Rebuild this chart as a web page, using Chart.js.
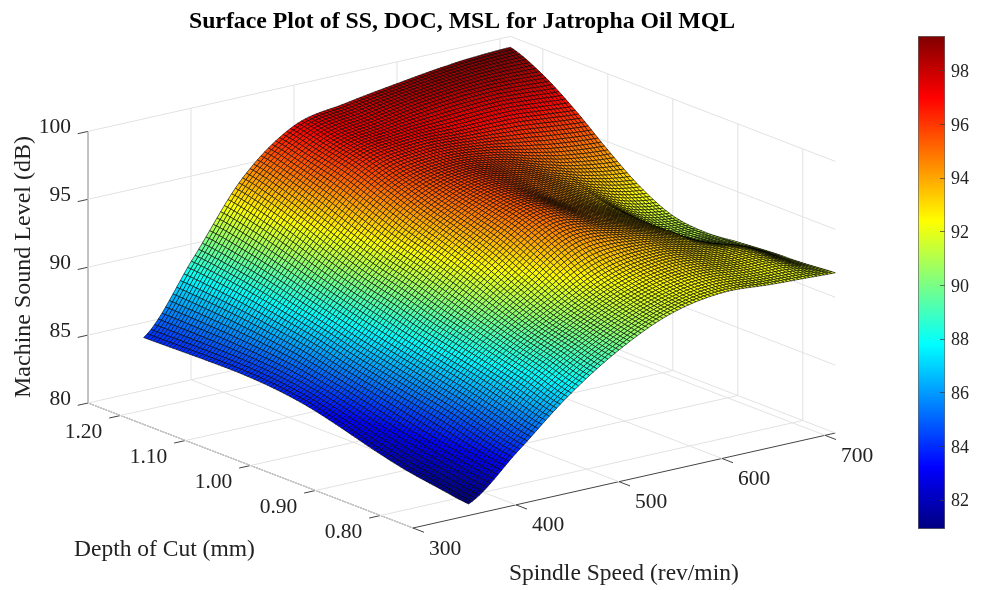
<!DOCTYPE html>
<html>
<head>
<meta charset="utf-8">
<title>Surface Plot of SS, DOC, MSL for Jatropha Oil MQL</title>
<script src="https://cdn.jsdelivr.net/npm/chart.js@4"></script>
<style>
    body { margin: 0; background: #fff; }
    #wrap { position: relative; width: 984px; height: 590px; overflow: hidden; filter: blur(0.6px); }
    #surface-chart { position: absolute; left: 0; top: 0; }
    #colorbar-chart { position: absolute; left: 880px; top: 0; }
</style>
</head>
<body>
<div id="wrap">
    <canvas id="surface-chart" width="924" height="590"></canvas>
    <canvas id="colorbar-chart" width="104" height="590"></canvas>
</div>
<script>
// values
const spindleSpeed = [354, 400, 450, 500, 550, 600, 650, 680, 710];
const depthOfCut = [0.75, 0.80, 0.85, 0.90, 0.95, 1.00, 1.05, 1.10, 1.15, 1.20, 1.25];
const soundLevel354 = [80.85, 81.2, 81.6, 82.2, 82.9, 83.5, 83.85, 84.0, 84.0, 83.95, 83.9];
const soundLevel400 = [83.8, 84.3, 84.9, 85.4, 85.9, 86.4, 87.0, 87.5, 88.0, 88.4, 88.7];
const soundLevel450 = [87.1, 87.8, 88.4, 89.0, 89.6, 90.3, 90.9, 91.7, 92.6, 93.4, 94.0];
const soundLevel500 = [89.7, 90.2, 90.8, 91.8, 92.9, 93.7, 94.4, 95.2, 96.0, 96.5, 97.0];
const soundLevel550 = [91.5, 91.9, 92.7, 94.2, 95.2, 95.6, 95.9, 96.2, 96.8, 97.3, 97.8];
const soundLevel600 = [92.2, 92.7, 93.3, 93.9, 94.2, 94.5, 95.2, 95.9, 96.8, 97.9, 98.4];
const soundLevel650 = [92.0, 92.4, 92.7, 92.9, 92.9, 93.1, 93.8, 95.0, 96.8, 98.2, 98.9];
const soundLevel680 = [91.9, 92.3, 92.4, 91.7, 91.3, 91.8, 93.0, 94.6, 96.6, 98.2, 99.1];
const soundLevel710 = [91.8, 91.6, 91.5, 91.3, 91.1, 91.4, 92.6, 94.4, 96.4, 98.1, 99.2];
const soundLevels = [soundLevel354, soundLevel400, soundLevel450, soundLevel500,
    soundLevel550, soundLevel600, soundLevel650, soundLevel680, soundLevel710];

const speedTicks = [300, 400, 500, 600, 700];
const depthTicks = [0.80, 0.90, 1.00, 1.10, 1.20];
const levelTicks = [80, 85, 90, 95, 100];
const colorbarTicks = [82, 84, 86, 88, 90, 92, 94, 96, 98];
const colorMin = 80.91;
const colorMax = 99.28;

const titleText = 'Surface Plot of SS, DOC, MSL for Jatropha Oil MQL';
const speedLabel = 'Spindle Speed (rev/min)';
const depthLabel = 'Depth of Cut (mm)';
const levelLabel = 'Machine Sound Level (dB)';

// the 3D box: speed 300-710, depth 0.75-1.25, level 80-100
const SPEED_MIN = 300, SPEED_MAX = 710, DEPTH_MIN = 0.75, DEPTH_MAX = 1.25, LEVEL_MIN = 80, LEVEL_MAX = 100;
const MESH = 100;
const serif = '"Liberation Serif", "Times New Roman", serif';
const TEXT = '#222';

function project(ss, doc, z) {
    const s = ss - SPEED_MIN, u = DEPTH_MAX - doc;
    return {
        x: 88 + s * 1.03 + u * 650,
        y: 403 - s * 0.2317 + u * 250 - (z - LEVEL_MIN) * 13.58
    };
}

function jet(v) {
    const t = (v - colorMin) / (colorMax - colorMin);
    const ramp = d => Math.max(0, Math.min(1, 1.5 - Math.abs(4 * t - d)));
    return [ramp(3), ramp(2), ramp(1)].map(c => Math.round(c * 255));
}

// smooth the read values between table nodes, only so the fine mesh has no kinks
function catmull(p0, p1, p2, p3, t) {
    return 0.5 * (2 * p1 + (p2 - p0) * t + (2 * p0 - 5 * p1 + 4 * p2 - p3) * t * t + (3 * p1 - p0 - 3 * p2 + p3) * t * t * t);
}
function nodeIndex(list, v) {
    let i = 0;
    while (i < list.length - 2 && v > list[i + 1]) i++;
    return [i, (v - list[i]) / (list[i + 1] - list[i])];
}
function at(r, c) {
    r = Math.max(0, Math.min(soundLevels.length - 1, r));
    c = Math.max(0, Math.min(depthOfCut.length - 1, c));
    return soundLevels[r][c];
}
function levelAt(ss, doc) {
    const [r, tr] = nodeIndex(spindleSpeed, ss);
    const [c, tc] = nodeIndex(depthOfCut, doc);
    const rows = [-1, 0, 1, 2].map(dr => catmull(at(r + dr, c - 1), at(r + dr, c), at(r + dr, c + 1), at(r + dr, c + 2), tc));
    return catmull(rows[0], rows[1], rows[2], rows[3], tr);
}

const ssFirst = spindleSpeed[0], ssLast = spindleSpeed[spindleSpeed.length - 1];
const meshPoints = [], meshLevels = [];
for (let i = 0; i <= MESH; i++) {
    const ss = ssFirst + (ssLast - ssFirst) * i / MESH;
    for (let j = 0; j <= MESH; j++) {
        const doc = DEPTH_MIN + (DEPTH_MAX - DEPTH_MIN) * j / MESH;
        const z = levelAt(ss, doc);
        meshLevels.push(z);
        meshPoints.push(project(ss, doc, z));
    }
}

function line(a, b, color, width) {
    return {
        data: [a, b], showLine: true, pointRadius: 0, borderColor: color, borderWidth: width,
        clip: false, parsing: true, fill: false
    };
}

const GRID = '#e2e2e2', AXIS = '#444';
const datasets = [{ label: 'surface', data: meshPoints, pointRadius: 0, showLine: false, clip: false }];

// grid on the two back walls and the floor
levelTicks.forEach(z => {
    datasets.push(line(project(SPEED_MIN, DEPTH_MAX, z), project(SPEED_MAX, DEPTH_MAX, z), GRID, 1));
    datasets.push(line(project(SPEED_MAX, DEPTH_MAX, z), project(SPEED_MAX, DEPTH_MIN, z), GRID, 1));
});
speedTicks.forEach(ss => {
    datasets.push(line(project(ss, DEPTH_MAX, LEVEL_MIN), project(ss, DEPTH_MAX, LEVEL_MAX), GRID, 1));
    datasets.push(line(project(ss, DEPTH_MAX, LEVEL_MIN), project(ss, DEPTH_MIN, LEVEL_MIN), GRID, 1));
});
depthTicks.forEach(doc => {
    datasets.push(line(project(SPEED_MAX, doc, LEVEL_MIN), project(SPEED_MAX, doc, LEVEL_MAX), GRID, 1));
    datasets.push(line(project(SPEED_MIN, doc, LEVEL_MIN), project(SPEED_MAX, doc, LEVEL_MIN), GRID, 1));
});

// axis lines and tick marks
datasets.push(line(project(SPEED_MIN, DEPTH_MAX, LEVEL_MIN), project(SPEED_MIN, DEPTH_MAX, LEVEL_MAX), AXIS, 1));
datasets.push(line(project(SPEED_MIN, DEPTH_MAX, LEVEL_MIN), project(SPEED_MIN, DEPTH_MIN, LEVEL_MIN), AXIS, 1));
datasets.push(line(project(SPEED_MIN, DEPTH_MIN, LEVEL_MIN), project(SPEED_MAX, DEPTH_MIN, LEVEL_MIN), AXIS, 1));
levelTicks.forEach(z => {
    datasets.push(line(project(SPEED_MIN, DEPTH_MAX, z), project(SPEED_MIN - 10, DEPTH_MAX, z), AXIS, 1));
});
depthTicks.forEach(doc => {
    datasets.push(line(project(SPEED_MIN, doc, LEVEL_MIN), project(SPEED_MIN - 11, doc, LEVEL_MIN), AXIS, 1));
});
speedTicks.forEach(ss => {
    datasets.push(line(project(ss, DEPTH_MIN, LEVEL_MIN), project(ss, DEPTH_MIN - 0.017, LEVEL_MIN), AXIS, 1));
});

const surfacePlugin = {
    id: 'surfaceMesh',
    afterDatasetsDraw(chart) {
        const pts = chart.getDatasetMeta(0).data;
        const c = chart.ctx;
        const n = MESH + 1;
        c.save();
        c.lineJoin = 'round';
        // back corner first, front corner last
        for (let i = MESH - 1; i >= 0; i--) {
            for (let j = MESH - 1; j >= 0; j--) {
                const a = i * n + j, b = a + 1, d = (i + 1) * n + j, e = d + 1;
                const rgb = jet((meshLevels[a] + meshLevels[b] + meshLevels[d] + meshLevels[e]) / 4);
                c.beginPath();
                c.moveTo(pts[a].x, pts[a].y);
                c.lineTo(pts[b].x, pts[b].y);
                c.lineTo(pts[e].x, pts[e].y);
                c.lineTo(pts[d].x, pts[d].y);
                c.closePath();
                c.fillStyle = 'rgb(' + rgb.join(',') + ')';
                c.fill();
                c.strokeStyle = 'rgba(0,0,0,0.8)';
                c.lineWidth = 0.75;
                c.stroke();
            }
        }
        c.restore();
    }
};

const labelPlugin = {
    id: 'boxLabels',
    afterDraw(chart) {
        const c = chart.ctx, sx = chart.scales.x, sy = chart.scales.y;
        const put = (p, dx, dy) => [sx.getPixelForValue(p.x) + dx, sy.getPixelForValue(p.y) + dy];
        c.save();
        c.fillStyle = TEXT;
        c.textBaseline = 'middle';
        c.font = '21.5px ' + serif;
        c.textAlign = 'right';
        levelTicks.forEach(z => {
            const [x, y] = put(project(SPEED_MIN, DEPTH_MAX, z), -17, -4);
            c.fillText(String(z), x, y);
        });
        c.textAlign = 'center';
        depthTicks.forEach(doc => {
            const [x, y] = put(project(SPEED_MIN, doc, LEVEL_MIN), -37, 17);
            c.fillText(doc.toFixed(2), x, y);
        });
        speedTicks.forEach(ss => {
            const [x, y] = put(project(ss, DEPTH_MIN, LEVEL_MIN), 32, 21);
            c.fillText(String(ss), x, y);
        });
        c.font = '23.5px ' + serif;
        c.textAlign = 'left';
        c.fillText(depthLabel, 74, 550);
        c.fillText(speedLabel, 509, 574);
        c.translate(24, 267);
        c.rotate(-Math.PI / 2);
        c.textAlign = 'center';
        c.font = '24px ' + serif;
        c.fillText(levelLabel, 0, 0);
        c.restore();
    }
};

new Chart(document.getElementById('surface-chart').getContext('2d'), {
    type: 'scatter',
    data: { datasets: datasets },
    plugins: [surfacePlugin, labelPlugin],
    options: {
        responsive: false,
        animation: false,
        events: [],
        layout: { padding: 0 },
        plugins: {
            legend: { display: false },
            tooltip: { enabled: false },
            title: {
                display: true,
                text: titleText,
                color: '#000',
                font: { family: serif, size: 23.8, weight: 'bold', lineHeight: 1.2 },
                padding: { top: 8, bottom: 3.44 }
            }
        },
        scales: {
            x: { type: 'linear', min: 0, max: 924, display: false },
            y: { type: 'linear', min: 40, max: 590, reverse: true, display: false }
        }
    }
});

const colorStops = [0, 0.125, 0.375, 0.625, 0.875, 1];
function barGradient(context) {
    const area = context.chart.chartArea;
    if (!area) return '#000';
    const g = context.chart.ctx.createLinearGradient(0, area.bottom, 0, area.top);
    colorStops.forEach(t => {
        const rgb = jet(colorMin + t * (colorMax - colorMin));
        g.addColorStop(t, 'rgb(' + rgb.join(',') + ')');
    });
    return g;
}

const colorbarTickPlugin = {
    id: 'innerTicks',
    afterDatasetsDraw(chart) {
        const c = chart.ctx, y = chart.scales.y, right = chart.chartArea.right;
        c.save();
        c.strokeStyle = 'rgba(60,60,60,0.7)';
        c.lineWidth = 1;
        colorbarTicks.forEach(v => {
            const py = Math.round(y.getPixelForValue(v)) + 0.5;
            c.beginPath();
            c.moveTo(right - 5, py);
            c.lineTo(right, py);
            c.stroke();
        });
        c.restore();
    }
};

new Chart(document.getElementById('colorbar-chart').getContext('2d'), {
    type: 'bar',
    data: {
        labels: ['MSL'],
        datasets: [{
            data: [[colorMin, colorMax]],
            backgroundColor: barGradient,
            borderColor: '#666',
            borderWidth: 1,
            borderSkipped: false,
            barPercentage: 1,
            categoryPercentage: 1
        }]
    },
    plugins: [colorbarTickPlugin],
    options: {
        responsive: false,
        animation: false,
        events: [],
        layout: { padding: { left: 38, top: 36, bottom: 61, right: 0 } },
        plugins: { legend: { display: false }, tooltip: { enabled: false } },
        scales: {
            x: { display: false },
            y: {
                position: 'right',
                min: colorMin,
                max: colorMax,
                afterBuildTicks: scale => { scale.ticks = colorbarTicks.map(v => ({ value: v })); },
                afterFit: scale => { scale.width = 39; },
                grid: { display: false, drawTicks: false },
                border: { display: false },
                ticks: { color: TEXT, padding: 6, labelOffset: 2, font: { family: serif, size: 18 } }
            }
        }
    }
});
</script>
</body>
</html>
